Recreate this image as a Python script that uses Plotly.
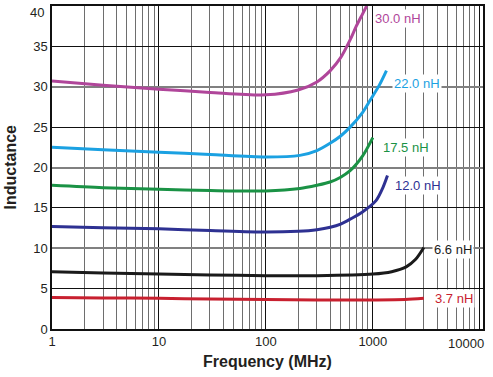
import math
import plotly.graph_objects as go

# Frequency (MHz) sample points and inductance (nH) per part
freq_30 = [1, 3, 10, 30, 100, 200, 300, 400, 500, 613, 700, 800, 875]
ind_30 = [30.7, 30.2, 29.7, 29.3, 29.0, 29.6, 30.6, 32.0, 33.6, 35.8, 37.5, 39.0, 40.0]

freq_22 = [1, 3, 10, 30, 100, 208, 300, 398, 500, 613, 800, 940, 1150, 1340]
ind_22 = [22.5, 22.2, 21.9, 21.6, 21.3, 21.5, 22.1, 23.0, 23.9, 25.0, 26.8, 28.3, 30.2, 32.0]

freq_175 = [1, 3, 10, 30, 100, 208, 300, 398, 500, 613, 800, 1000]
ind_175 = [17.8, 17.5, 17.3, 17.15, 17.1, 17.4, 17.8, 18.2, 18.8, 19.6, 21.4, 23.7]

freq_12 = [1, 3, 10, 30, 100, 200, 300, 400, 500, 613, 800, 1070, 1250, 1370]
ind_12 = [12.7, 12.55, 12.4, 12.2, 12.0, 12.1, 12.3, 12.6, 13.0, 13.6, 14.5, 15.9, 17.6, 19.0]

freq_66 = [1, 3, 10, 30, 100, 300, 1000, 1500, 2050, 2500, 3000]
ind_66 = [7.1, 6.95, 6.8, 6.7, 6.6, 6.6, 6.8, 7.1, 7.7, 8.6, 10.1]

freq_37 = [1, 3, 10, 30, 100, 300, 1000, 2000, 3000]
ind_37 = [3.9, 3.85, 3.8, 3.7, 3.65, 3.6, 3.6, 3.65, 3.8]

series_colors = ["#B0469A", "#1BA1E2", "#1A9245", "#2E3192", "#1A1A1A", "#C8202F"]
series_labels = ["30.0 nH", "22.0 nH", "17.5 nH", "12.0 nH", "6.6 nH", "3.7 nH"]
# label anchor (frequency MHz, inductance nH)
label_freq = [1000, 1510, 1200, 1550, 3550, 3630]
label_ind = [38.5, 30.4, 22.5, 17.8, 9.9, 3.8]

x_tick_vals = [1, 10, 100, 1000, 10000]
x_tick_text = ["1", "10", "100", "1000", ""]
x_last_tick = "10000"
x_minor_vals = [m * 10 ** d for d in range(0, 5) for m in range(2, 10)]
y_tick_vals = [0, 5, 10, 15, 20, 25, 30, 35, 40]
y_tick_text = ["0", "5", "10", "15", "20", "25", "30", "35", ""]
y_top_tick = "40"
y_grey_vals = [10, 20, 30]

series = [(freq_30, ind_30), (freq_22, ind_22), (freq_175, ind_175),
          (freq_12, ind_12), (freq_66, ind_66), (freq_37, ind_37)]

font_family = "Liberation Sans, Arial, sans-serif"
text_col = "#231F20"

fig = go.Figure()
for (fx, fy), col in zip(series, series_colors):
    fig.add_trace(go.Scatter(x=fx, y=fy, mode="lines",
                             line=dict(color=col, width=3, shape="spline", smoothing=0.8),
                             showlegend=False))

# invisible trace on overlay axis so its grey grid lines are drawn
fig.add_trace(go.Scatter(x=[1], y=[0], yaxis="y2", mode="markers",
                         marker=dict(opacity=0), showlegend=False, hoverinfo="skip"))

for txt, lx, ly, col in zip(series_labels, label_freq, label_ind, series_colors):
    fig.add_annotation(x=math.log10(lx), y=ly, text=txt, showarrow=False,
                       xanchor="left", yanchor="middle",
                       font=dict(family=font_family, size=13, color=col),
                       bgcolor="white", borderpad=1)

# edge tick labels (kept inside the page)
fig.add_annotation(x=math.log10(x_tick_vals[-1]), y=0, xref="x", yref="paper",
                   text=x_last_tick, showarrow=False, xanchor="center", yanchor="top",
                   xshift=-14, yshift=-5, font=dict(family=font_family, size=13, color=text_col))
fig.add_annotation(x=0, y=y_tick_vals[-1], xref="paper", yref="y",
                   text=y_top_tick, showarrow=False, xanchor="right", yanchor="middle",
                   xshift=-6, yshift=-6, font=dict(family=font_family, size=13, color=text_col))

# axis titles
fig.add_annotation(x=0.5, y=0, xref="paper", yref="paper", text="<b>Frequency (MHz)</b>",
                   showarrow=False, xanchor="center", yanchor="middle", yshift=-32,
                   font=dict(family=font_family, size=16, color=text_col))
fig.add_annotation(x=0, y=0.5, xref="paper", yref="paper", text="<b>Inductance</b>",
                   showarrow=False, xanchor="center", yanchor="middle", xshift=-42,
                   textangle=-90, font=dict(family=font_family, size=16, color=text_col))

fig.update_layout(
    width=493, height=377,
    margin=dict(l=52, r=10, t=6, b=48),
    paper_bgcolor="white", plot_bgcolor="white",
    font=dict(family=font_family, size=13, color=text_col),
    xaxis=dict(type="log", range=[0, 4.03], automargin=False,
               tickvals=x_tick_vals, ticktext=x_tick_text,
               showgrid=True, gridcolor="#111111", gridwidth=1.2,
               minor=dict(tickvals=x_minor_vals, showgrid=True, gridcolor="#6E6E6E",
                          gridwidth=1.2, ticks=""),
               showline=True, linecolor="#111111", linewidth=1.5, mirror=True,
               ticks="", zeroline=False),
    yaxis=dict(range=[0, 40], tickvals=y_tick_vals, ticktext=y_tick_text, automargin=False,
               showgrid=True, gridcolor="#111111", gridwidth=1.2,
               showline=True, linecolor="#111111", linewidth=1.5, mirror=True,
               ticks="", zeroline=False),
    yaxis2=dict(range=[0, 40], overlaying="y", tickvals=y_grey_vals, automargin=False,
                showticklabels=False, showgrid=True, gridcolor="#808080", gridwidth=1.8,
                zeroline=False, ticks=""),
)

fig.write_html("out.html", config={"displayModeBar": False},
               post_script="document.body.style.margin='0';document.body.style.overflow='hidden';")
